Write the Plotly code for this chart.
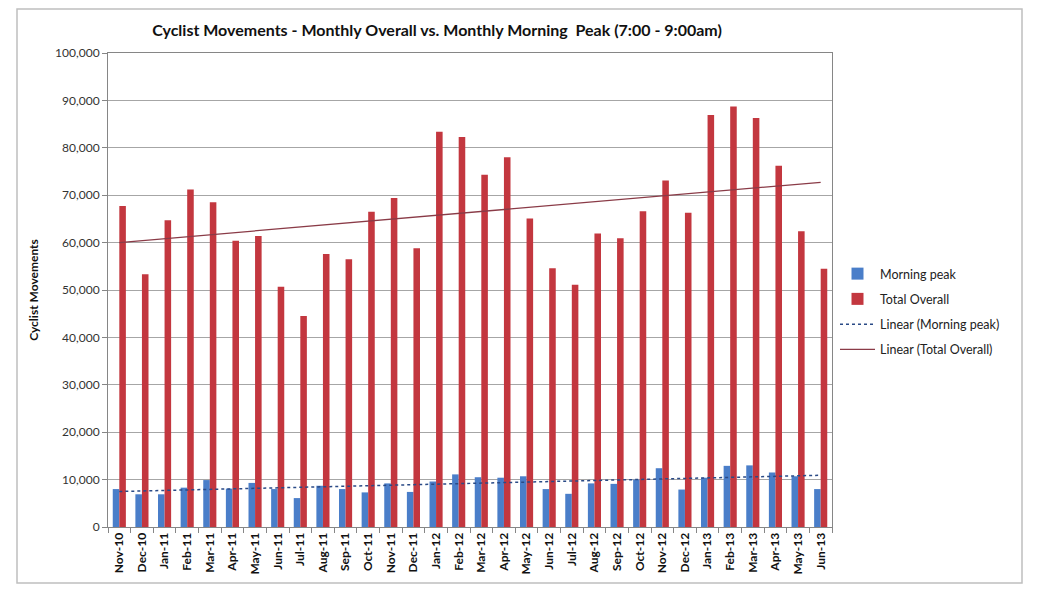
import numpy as np
import plotly.graph_objects as go

months = ["Nov-10", "Dec-10", "Jan-11", "Feb-11", "Mar-11", "Apr-11", "May-11", "Jun-11",
          "Jul-11", "Aug-11", "Sep-11", "Oct-11", "Nov-11", "Dec-11", "Jan-12", "Feb-12",
          "Mar-12", "Apr-12", "May-12", "Jun-12", "Jul-12", "Aug-12", "Sep-12", "Oct-12",
          "Nov-12", "Dec-12", "Jan-13", "Feb-13", "Mar-13", "Apr-13", "May-13", "Jun-13"]

morning_peak = [8000, 6900, 6900, 8300, 9900, 8100, 9300, 8000,
                6100, 8700, 8000, 7300, 9200, 7400, 9600, 11100,
                10500, 10400, 10700, 8000, 7000, 9200, 9100, 10000,
                12400, 7900, 10400, 12900, 13000, 11500, 10700, 8000]

total_overall = [67700, 53300, 64700, 71200, 68500, 60400, 61400, 50700,
                 44500, 57600, 56500, 66500, 69400, 58800, 83400, 82300,
                 74300, 78000, 65100, 54600, 51100, 61900, 60900, 66600,
                 73100, 66300, 86900, 88700, 86300, 76200, 62400, 54500]

y_ticks = [0, 10000, 20000, 30000, 40000, 50000, 60000, 70000, 80000, 90000, 100000]

idx = np.arange(1, len(months) + 1)
mp_fit = np.polyval(np.polyfit(idx, morning_peak, 1), idx)
to_fit = np.polyval(np.polyfit(idx, total_overall, 1), idx)

FONT = "Lato"

# plot area in figure pixels
L, R, T, B = 100, 824, 45, 519
W, H = R - L, B - T

def px(x):
    return (x - L) / W

def py(y):
    return (B - y) / H

fig = go.Figure()
fig.add_trace(go.Bar(x=months, y=morning_peak, name="Morning peak",
                     marker=dict(color="#4a7ec9", line=dict(width=0)), legendgroup="a"))
fig.add_trace(go.Bar(x=months, y=total_overall, name="Total Overall",
                     marker=dict(color="#c3373f", line=dict(width=0)), legendgroup="b"))
fig.add_trace(go.Scatter(x=months, y=mp_fit, mode="lines", name="Linear (Morning peak)",
                         line=dict(color="#2a4a86", width=1.5, dash="dot"), legendgroup="c"))
fig.add_trace(go.Scatter(x=months, y=to_fit, mode="lines", name="Linear (Total Overall)",
                         line=dict(color="#8a3b47", width=1.3), legendgroup="d"))

fig.update_layout(
    width=1040, height=600,
    margin=dict(l=L, r=1040 - R, t=T, b=600 - B),
    paper_bgcolor="white", plot_bgcolor="white",
    barmode="group", bargap=0.42, bargroupgap=0.0,
    font=dict(family=FONT, color="#222222"),
    title=dict(text="<b>Cyclist Movements - Monthly Overall vs. Monthly Morning  Peak (7:00 - 9:00am)</b>",
               x=429 / 1040, xanchor="center", y=1 - 22 / 600, yanchor="middle",
               font=dict(family=FONT, size=16, color="#111111")),
    legend=dict(x=px(827), y=py(251), xanchor="left", yanchor="top",
                font=dict(family=FONT, size=12.5, color="#222222"),
                tracegroupgap=6, itemwidth=35, bgcolor="rgba(0,0,0,0)"),
    showlegend=True,
)

fig.update_xaxes(
    type="category", tickangle=-90,
    tickfont=dict(family=FONT, size=12, color="#111111", weight="bold"),
    ticks="outside", tickson="boundaries", ticklen=5, tickcolor="#868686",
    showline=True, linecolor="#868686", linewidth=1, mirror=True,
    showgrid=False,
)
fig.update_yaxes(
    range=[0, 100000], tickvals=y_ticks, tickformat=",d",
    tickfont=dict(family=FONT, size=12, color="#333333"),
    ticks="outside", ticklen=5, tickcolor="#868686",
    showline=True, linecolor="#868686", linewidth=1, mirror=True,
    showgrid=True, gridcolor="#a6a6a6", gridwidth=1, zeroline=False,
    title=dict(text="<b>Cyclist Movements</b>", font=dict(family=FONT, size=12, color="#111111"),
               standoff=13),
)

fig.add_shape(type="rect", xref="paper", yref="paper",
              x0=px(9), x1=px(1014), y0=py(575), y1=py(1),
              line=dict(color="#bfbfbf", width=1.5), fillcolor="rgba(0,0,0,0)", layer="below")

fig.write_html("out.html")
